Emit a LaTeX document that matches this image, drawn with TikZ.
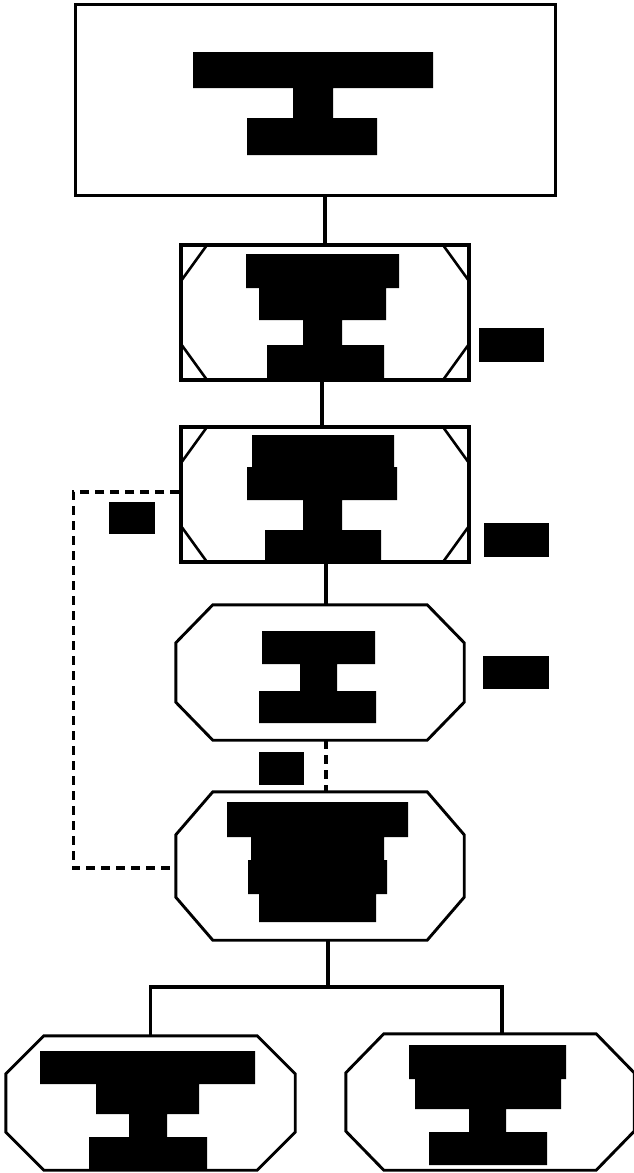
\documentclass[tikz,border=0pt]{standalone}
\usetikzlibrary{positioning}
\newcommand{\cut}{36pt}
\newcommand{\octo}[3]{%
  \draw[octline] ([xshift=#2]#1.north west) -- ([xshift=-#2]#1.north east) -- ([yshift=-#3]#1.north east)
    -- ([yshift=#3]#1.south east) -- ([xshift=-#2]#1.south east) -- ([xshift=#2]#1.south west)
    -- ([yshift=#3]#1.south west) -- ([yshift=-#3]#1.north west) -- cycle;}
\tikzset{
  startbox/.style={draw, line width=3pt, minimum width=480pt, minimum height=191pt, inner sep=0pt},
  macbox/.style={draw, line width=3.3pt, minimum width=288pt, minimum height=135pt, inner sep=0pt,
    path picture={
      \draw[line width=2.6pt] ([xshift=26pt]path picture bounding box.north west) -- ([yshift=-\cut]path picture bounding box.north west);
      \draw[line width=2.6pt] ([xshift=-26pt]path picture bounding box.north east) -- ([yshift=-\cut]path picture bounding box.north east);
      \draw[line width=2.6pt] ([xshift=26pt]path picture bounding box.south west) -- ([yshift=\cut]path picture bounding box.south west);
      \draw[line width=2.6pt] ([xshift=-26pt]path picture bounding box.south east) -- ([yshift=\cut]path picture bounding box.south east);
    }},
  octbox/.style={minimum width=288pt, minimum height=135pt, inner sep=0pt},
  octline/.style={line width=2.9pt, line join=miter},
  link/.style={line width=3.4pt},
  dlink/.style={link, dash pattern=on 9pt off 6pt},
  redact/.style={fill=black},
}

\begin{document}
\begin{tikzpicture}[x=1pt, y=-1pt]
\useasboundingbox (0,0) rectangle (634,1173);
\node[startbox] (top) at (315,99.5) {};
\node[macbox] (mac1) at (325,312.5) {};
\node[macbox] (mac2) at (325,494.5) {};
\node[octbox] (oct1) at (320,672.5) {};
\node[octbox, minimum height=148pt] (oct2) at (320,866) {};
\node[octbox, minimum height=134pt, minimum width=289pt] (oct3) at (150.5,1103) {};
\node[octbox, minimum height=136pt] (oct4) at (490,1102) {};
\coordinate (fork) at (328,987);
\octo{oct1}{37pt}{38pt}
\octo{oct2}{37pt}{43pt}
\octo{oct3}{38pt}{38pt}
\octo{oct4}{38pt}{39pt}

\draw[link] (mac1.north) -- (mac1.north |- top.south);
\draw[link] ([xshift=-3pt]mac1.south) -- ([xshift=-3pt]mac2.north);
\draw[link] ([xshift=1pt]mac2.south) -- ([xshift=1pt]mac2.south |- oct1.north);
\draw[dlink] ([xshift=6pt]oct1.south) -- ([xshift=6pt]oct2.north);
\draw[dlink] ([yshift=2.5pt]mac2.west) -- ++(-106,0) |- ([yshift=-2pt]oct2.west);
\draw[link] ([xshift=8pt]oct2.south) -- (fork);
\draw[link] (oct3.north) |- (fork) -| ([xshift=12pt]oct4.north);

\fill[redact] (193,52) rectangle (433,88) (293,87) rectangle (333,119) (247,118) rectangle (377,155);
\fill[redact] (246,254) rectangle (399,288) (259,287) rectangle (386,320) (303,319) rectangle (342,346) (267,345) rectangle (384,380);
\fill[redact] (479,328) rectangle (544,362);
\fill[redact] (252,435) rectangle (394,468) (247,467) rectangle (397,500) (303,499) rectangle (342,531) (265,530) rectangle (381,562);
\fill[redact] (109,502) rectangle (155,534);
\fill[redact] (484,523) rectangle (549,557);
\fill[redact] (262,631) rectangle (375,664) (300,663) rectangle (337,692) (259,691) rectangle (376,723);
\fill[redact] (483,656) rectangle (549,689);
\fill[redact] (259,752) rectangle (304,785);
\fill[redact] (227,802) rectangle (408,837) (251,836) rectangle (384,861) (248,860) rectangle (387,894) (259,893) rectangle (376,922);
\fill[redact] (40,1051) rectangle (255,1084) (96,1083) rectangle (199,1114) (129,1113) rectangle (167,1138) (89,1137) rectangle (207,1170);
\fill[redact] (409,1045) rectangle (566,1079) (415,1078) rectangle (561,1109) (469,1108) rectangle (506,1133) (429,1132) rectangle (547,1165);
\end{tikzpicture}
\end{document}
